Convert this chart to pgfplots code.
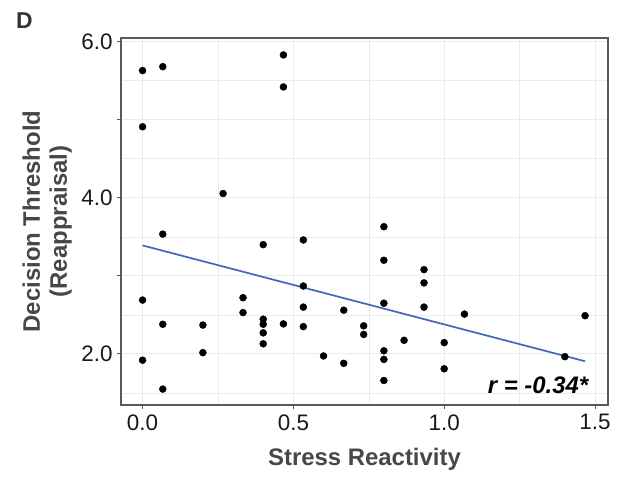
\documentclass[border=0pt]{standalone}
\usepackage{fontspec}
\setmainfont{Liberation Sans}
\usepackage{pgfplots}
\pgfplotsset{compat=1.18}
\definecolor{fitblue}{HTML}{4267B8}
\definecolor{framegrey}{HTML}{5A5A5A}
\definecolor{gridgrey}{HTML}{EBEBEB}

\begin{document}
\begin{tikzpicture}
\useasboundingbox (-121bp,-72bp) rectangle (501bp,405bp);
\begin{axis}[scale only axis,width=487bp,height=367bp,
  xmin=-0.0715,xmax=1.543,ymin=1.346,ymax=6.047,
  xtick={0,0.5,1,1.5},xticklabels={0.0,0.5,1.0,1.5},
  minor xtick={0.25,0.75,1.25},
  ytick={2,3,4,5,6},yticklabels={2.0,,4.0,,6.0},
  minor ytick={1.5,2.5,3.5,4.5,5.5},
  grid=both,
  major grid style={gridgrey,line width=0.9bp},
  minor grid style={gridgrey,line width=0.6bp},
  axis line style={framegrey,line width=1.3bp},
  tick style={framegrey,line width=1bp},
  tick align=outside,major tick length=4bp,minor tick length=0pt,
  xtick pos=left,ytick pos=left,
  /pgf/number format/assume math mode=true,
  tick label style={font=\fontsize{22.5}{22.5}\selectfont,text=black!90},
  xticklabel style={yshift=-2bp},
  yticklabel style={xshift=-1bp},
  xlabel={Stress Reactivity},
  xlabel style={at={(axis description cs:0.5,-0.117)},anchor=north,inner sep=0pt,
    font=\bfseries\fontsize{24}{26}\selectfont,text=black!72},
  ylabel={Decision Threshold\\(Reappraisal)},
  ylabel style={at={(axis description cs:-0.1006,0.5)},anchor=south,inner sep=0pt,
    align=center,font=\bfseries\fontsize{24}{27}\selectfont,text=black!72},
  clip=false]
\addplot[only marks,mark=*,mark size=3.5bp,black] coordinates {
(0.0,5.63) (0.067,5.68) (0.467,5.83) (0.467,5.42) (0.0,4.91) (0.267,4.055)
(0.067,3.535) (0.4,3.40) (0.533,3.46) (0.0,2.69) (0.333,2.72) (0.333,2.53)
(0.533,2.87) (0.533,2.60) (0.067,2.38) (0.2,2.37) (0.4,2.445) (0.4,2.38)
(0.4,2.27) (0.4,2.13) (0.467,2.385) (0.533,2.35) (0.667,2.56) (0.733,2.36)
(0.733,2.25) (0.0,1.92) (0.2,2.017) (0.6,1.974) (0.667,1.88) (0.067,1.55)
(0.8,3.63) (0.8,3.20) (0.8,2.65) (0.8,2.04) (0.8,1.93) (0.8,1.66)
(0.867,2.175) (0.933,3.08) (0.933,2.91) (0.933,2.60) (1.0,2.145) (1.0,1.81)
(1.067,2.51) (1.4,1.965) (1.467,2.49)
};
\addplot[fitblue,line width=1.7bp] coordinates {(0,3.39) (1.467,1.906)};
\node[anchor=base east,inner sep=0pt,font=\bfseries\itshape\fontsize{24}{24}\selectfont]
  at (axis cs:1.478,1.49) {r = -0.34*};
\end{axis}
\node[anchor=base west,inner sep=0pt,font=\bfseries\fontsize{23}{23}\selectfont,text=black!80]
  at (-105bp,376bp) {D};
\end{tikzpicture}
\end{document}
